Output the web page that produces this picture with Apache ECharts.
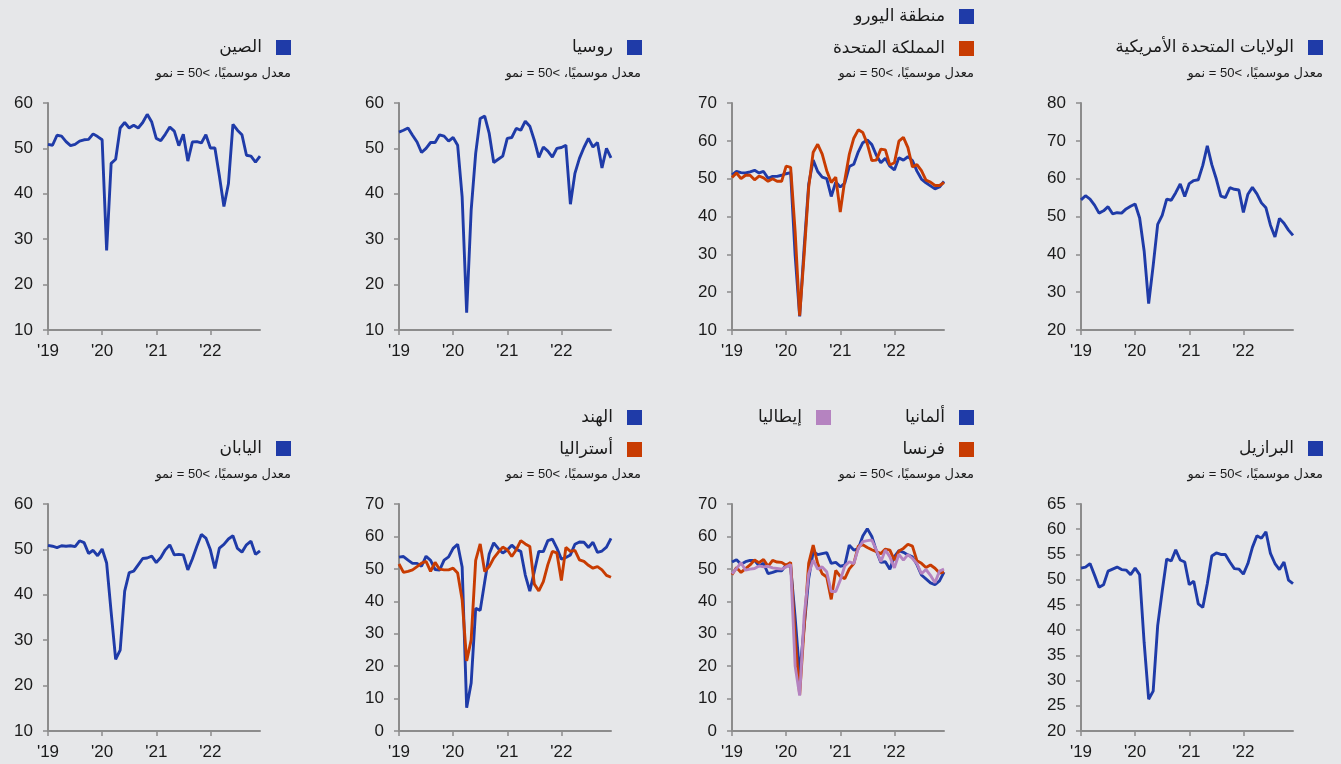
<!DOCTYPE html>
<html>
<head>
<meta charset="utf-8">
<script src="https://cdn.jsdelivr.net/npm/echarts@6/dist/echarts.min.js"></script>
<style>
html, body { margin: 0; padding: 0; background: #e6e7e9; }
#main { width: 1341px; height: 764px; }
</style>
</head>
<body>
<div id="main"></div>
<script>
"use strict";

// months Jan 2019 .. Dec 2022
var years = ['2019', '2020', '2021', '2022'];
var yearLabels = ["'19", "'20", "'21", "'22"];
var months = [];
years.forEach(function (y) {
    for (var m = 1; m <= 12; m++) {
        months.push(y + '-' + (m < 10 ? '0' + m : m));
    }
});

var subtitle = 'معدل موسميًا، >50 = نمو';

// composite PMI readings
var china = [50.9, 50.7, 52.9, 52.7, 51.5, 50.6, 50.9, 51.6, 51.9, 52.0, 53.2, 52.6,
    51.9, 27.5, 46.7, 47.6, 54.5, 55.7, 54.5, 55.1, 54.5, 55.7, 57.5, 55.8,
    52.2, 51.7, 53.1, 54.7, 53.8, 50.6, 53.1, 47.2, 51.4, 51.5, 51.2, 53.0,
    50.1, 50.1, 43.9, 37.2, 42.2, 55.3, 54.0, 53.0, 48.5, 48.3, 47.0, 48.3];
var russia = [53.6, 54.0, 54.5, 52.9, 51.4, 49.1, 50.0, 51.3, 51.3, 53.0, 52.7, 51.6,
    52.4, 50.7, 39.3, 13.8, 36.4, 48.9, 56.6, 57.1, 53.3, 46.9, 47.6, 48.3,
    52.2, 52.4, 54.4, 54.0, 56.0, 54.9, 51.8, 48.0, 50.3, 49.4, 48.1, 50.0,
    50.2, 50.7, 37.7, 44.5, 47.8, 50.2, 52.2, 50.3, 51.3, 45.7, 50.0, 47.9];
var eurozone = [51.0, 51.9, 51.6, 51.5, 51.8, 52.2, 51.5, 51.9, 50.1, 50.6, 50.6, 50.9,
    51.3, 51.6, 29.7, 13.6, 31.9, 48.5, 54.9, 51.9, 50.4, 50.0, 45.3, 49.1,
    47.8, 48.8, 53.2, 53.8, 57.1, 59.5, 60.2, 59.0, 56.2, 54.2, 55.4, 53.3,
    52.3, 55.5, 54.9, 55.8, 54.8, 52.0, 49.9, 48.9, 48.1, 47.3, 47.8, 49.3];
var uk = [50.3, 51.5, 50.0, 50.9, 50.9, 49.7, 50.7, 50.2, 49.3, 50.0, 49.3, 49.3,
    53.3, 53.0, 36.0, 13.8, 30.0, 47.7, 57.0, 59.1, 56.5, 52.1, 49.0, 50.4,
    41.2, 49.6, 56.4, 60.7, 62.9, 62.2, 59.2, 54.8, 54.9, 57.8, 57.6, 53.6,
    54.2, 59.9, 60.9, 58.2, 53.1, 53.7, 52.1, 49.6, 49.1, 48.2, 48.2, 49.0];
var usa = [54.4, 55.5, 54.6, 53.0, 50.9, 51.5, 52.6, 50.7, 51.0, 50.9, 52.0, 52.7,
    53.3, 49.6, 40.9, 27.0, 37.0, 47.9, 50.3, 54.6, 54.3, 56.3, 58.6, 55.3,
    58.7, 59.5, 59.7, 63.5, 68.7, 63.7, 59.9, 55.4, 55.0, 57.6, 57.2, 57.0,
    51.1, 55.9, 57.7, 56.0, 53.6, 52.3, 47.7, 44.6, 49.5, 48.2, 46.4, 45.0];
var japan = [50.9, 50.7, 50.4, 50.8, 50.7, 50.8, 50.6, 51.9, 51.5, 49.1, 49.8, 48.6,
    50.1, 47.0, 36.2, 25.8, 27.8, 40.8, 44.9, 45.2, 46.6, 48.0, 48.1, 48.5,
    47.1, 48.2, 49.9, 51.0, 48.8, 48.9, 48.8, 45.5, 47.9, 50.7, 53.3, 52.5,
    49.9, 45.8, 50.3, 51.1, 52.3, 53.0, 50.2, 49.4, 51.0, 51.8, 48.9, 49.7];
var india = [53.6, 53.8, 52.7, 51.7, 51.7, 50.8, 53.9, 52.6, 49.8, 49.6, 52.7, 53.7,
    56.3, 57.6, 50.6, 7.2, 14.8, 37.8, 37.2, 46.0, 54.6, 58.0, 56.3, 54.9,
    55.8, 57.3, 56.0, 55.4, 48.1, 43.1, 49.2, 55.4, 55.3, 58.7, 59.2, 56.4,
    53.0, 53.5, 54.3, 57.6, 58.3, 58.2, 56.6, 58.2, 55.1, 55.5, 56.7, 59.4];
var australia = [51.5, 48.9, 49.2, 49.7, 50.7, 51.8, 52.3, 49.2, 52.0, 49.9, 49.7, 49.7,
    50.2, 48.7, 40.5, 21.6, 28.1, 52.6, 57.7, 49.2, 50.7, 53.3, 55.1, 56.7,
    55.9, 53.8, 55.9, 58.7, 57.7, 56.9, 45.3, 43.2, 46.1, 51.3, 55.4, 54.9,
    46.4, 56.6, 55.4, 55.7, 52.8, 52.3, 51.1, 50.2, 50.7, 49.7, 48.0, 47.4];
var germany = [52.1, 52.8, 51.4, 52.2, 52.6, 52.6, 50.9, 51.7, 48.5, 48.9, 49.4, 49.4,
    51.2, 50.7, 35.0, 17.4, 32.3, 47.0, 55.3, 54.4, 54.7, 55.0, 51.7, 52.0,
    50.8, 51.1, 57.3, 55.8, 56.2, 60.1, 62.4, 60.0, 55.5, 52.0, 52.2, 49.9,
    53.8, 55.6, 55.1, 54.3, 53.7, 51.3, 48.1, 46.9, 45.7, 45.1, 46.3, 49.0];
var france = [48.2, 50.4, 48.9, 50.1, 51.2, 52.7, 51.9, 52.9, 50.8, 52.6, 52.1, 52.0,
    51.1, 52.0, 28.9, 11.1, 32.1, 51.7, 57.3, 51.6, 48.5, 47.5, 40.6, 49.5,
    47.7, 47.0, 50.0, 51.6, 57.0, 57.4, 56.6, 55.9, 55.3, 54.7, 56.1, 55.8,
    52.7, 55.5, 56.3, 57.6, 57.0, 52.5, 51.7, 50.4, 51.2, 50.2, 48.7, 49.1];
var italy = [48.5, 50.1, 51.9, 49.6, 49.9, 50.1, 50.9, 50.6, 50.8, 50.3, 50.1, 49.9,
    50.6, 51.3, 20.0, 10.9, 35.6, 48.5, 52.7, 49.9, 50.6, 49.1, 43.0, 43.0,
    46.5, 50.9, 52.2, 51.6, 56.3, 58.4, 58.7, 58.9, 55.8, 52.2, 55.8, 53.7,
    50.3, 54.5, 52.7, 54.4, 53.2, 51.6, 48.5, 49.8, 48.0, 45.7, 49.3, 49.9];
var brazil = [52.3, 52.5, 53.2, 50.9, 48.5, 49.0, 51.7, 52.1, 52.5, 52.0, 51.9, 51.0,
    52.3, 51.0, 37.5, 26.3, 27.9, 40.9, 47.7, 54.1, 53.7, 55.9, 53.9, 53.5,
    49.0, 49.7, 45.2, 44.5, 49.2, 54.7, 55.3, 55.0, 55.0, 53.5, 52.2, 52.1,
    51.1, 53.2, 56.4, 58.7, 58.2, 59.5, 55.2, 53.2, 52.0, 53.5, 49.9, 49.2];

var BLUE = '#1f3ba8';
var ORANGE = '#c83c02';
var LILAC = '#b583c0';
var AXIS = '#8c8c8c';
var TEXT = '#1a1a1a';
var FONT = "'Liberation Sans', Arial, 'DejaVu Sans', sans-serif";

var panels = [
    { left: 48, top: 103, min: 10, max: 60, interval: 10, subRight: 1050, subTop: 67,
      lines: [['الصين', china, BLUE]],
      legends: [{ right: 1050, top: 39, names: ['الصين'] }] },
    { left: 399, top: 103, min: 10, max: 60, interval: 10, subRight: 700, subTop: 67,
      lines: [['روسيا', russia, BLUE]],
      legends: [{ right: 699, top: 39, names: ['روسيا'] }] },
    { left: 732, top: 103, min: 10, max: 70, interval: 10, subRight: 367, subTop: 67,
      lines: [['منطقة اليورو', eurozone, BLUE], ['المملكة المتحدة', uk, ORANGE]],
      legends: [{ right: 367, top: 8, names: ['منطقة اليورو', 'المملكة المتحدة'] }] },
    { left: 1081, top: 103, min: 20, max: 80, interval: 10, subRight: 18, subTop: 67,
      lines: [['الولايات المتحدة الأمريكية', usa, BLUE]],
      legends: [{ right: 18, top: 39, names: ['الولايات المتحدة الأمريكية'] }] },
    { left: 48, top: 504, min: 10, max: 60, interval: 10, subRight: 1050, subTop: 468,
      lines: [['اليابان', japan, BLUE]],
      legends: [{ right: 1050, top: 440, names: ['اليابان'] }] },
    { left: 399, top: 504, min: 0, max: 70, interval: 10, subRight: 700, subTop: 468,
      lines: [['الهند', india, BLUE], ['أستراليا', australia, ORANGE]],
      legends: [{ right: 699, top: 409, names: ['الهند', 'أستراليا'] }] },
    { left: 732, top: 504, min: 0, max: 70, interval: 10, subRight: 367, subTop: 468,
      lines: [['ألمانيا', germany, BLUE], ['فرنسا', france, ORANGE], ['إيطاليا', italy, LILAC]],
      legends: [{ right: 367, top: 409, names: ['ألمانيا', 'فرنسا'] },
                { right: 510, top: 409, names: ['إيطاليا'] }] },
    { left: 1081, top: 504, min: 20, max: 65, interval: 5, subRight: 18, subTop: 468,
      lines: [['البرازيل', brazil, BLUE]],
      legends: [{ right: 18, top: 440, names: ['البرازيل'] }] }
];

var grids = [], xAxes = [], yAxes = [], series = [], legends = [], titles = [];

var labelStyle = { fontSize: 17, color: TEXT, fontFamily: FONT };

panels.forEach(function (p, i) {
    grids.push({ left: p.left, top: p.top, width: 212, height: 227 });
    xAxes.push({
        type: 'category',
        gridIndex: i,
        data: months,
        boundaryGap: false,
        axisLine: { lineStyle: { color: AXIS, width: 2 } },
        axisTick: {
            length: 5,
            lineStyle: { color: AXIS, width: 1.5 },
            interval: function (idx) { return idx % 12 === 0; }
        },
        axisLabel: {
            interval: function (idx) { return idx % 12 === 0; },
            // apostrophe and digits drawn as separate pieces so the order stays '19
            formatter: function (v, idx) {
                var s = yearLabels[Math.floor(idx / 12)];
                return '{q|' + s.charAt(0) + '}{d|' + s.slice(1) + '}';
            },
            rich: { q: labelStyle, d: labelStyle },
            fontSize: 17,
            color: TEXT,
            fontFamily: FONT,
            margin: 13
        },
        splitLine: { show: false }
    });
    yAxes.push({
        type: 'value',
        gridIndex: i,
        min: p.min,
        max: p.max,
        interval: p.interval,
        axisLine: { show: true, lineStyle: { color: AXIS, width: 2 } },
        axisTick: { show: true, length: 5, lineStyle: { color: AXIS, width: 1.5 } },
        axisLabel: { fontSize: 17, color: TEXT, fontFamily: FONT, margin: 15 },
        splitLine: { show: false }
    });
    p.lines.forEach(function (l) {
        series.push({
            name: l[0],
            type: 'line',
            xAxisIndex: i,
            yAxisIndex: i,
            data: l[1],
            showSymbol: false,
            color: l[2],
            lineStyle: { width: 2.9, color: l[2] }
        });
    });
    p.legends.forEach(function (lg) {
        legends.push({
            right: lg.right,
            top: lg.top,
            orient: 'vertical',
            data: lg.names,
            icon: 'rect',
            itemWidth: 15,
            itemHeight: 15,
            itemGap: 15,
            align: 'right',
            padding: 0,
            selectedMode: false,
            textStyle: { fontSize: 17, color: TEXT, fontFamily: FONT, lineHeight: 16, padding: [0, 9, 0, 0] }
        });
    });
    titles.push({
        text: subtitle,
        right: p.subRight,
        top: p.subTop,
        padding: 0,
        textStyle: { fontSize: 13, fontWeight: 'normal', color: TEXT, fontFamily: FONT }
    });
});

var dom = document.getElementById('main');
var myChart = echarts.init(dom, null, { renderer: 'canvas' });

var option = {
    backgroundColor: '#e6e7e9',
    animation: false,
    title: titles,
    legend: legends,
    grid: grids,
    xAxis: xAxes,
    yAxis: yAxes,
    series: series
};

myChart.setOption(option);
</script>
</body>
</html>
